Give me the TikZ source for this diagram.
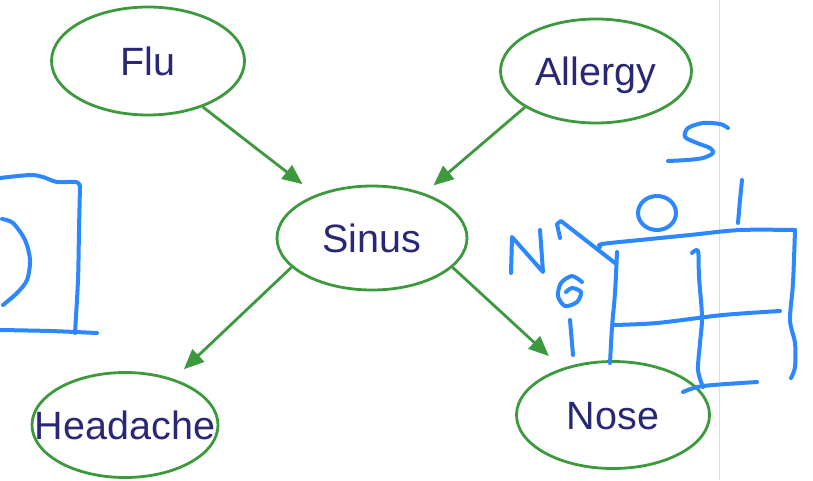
\documentclass[tikz,border=0pt]{standalone}
\usepackage{fontspec}
\setmainfont{Liberation Sans}
\usetikzlibrary{shapes.geometric,arrows.meta}
\definecolor{netgreen}{RGB}{61,153,61}
\definecolor{labelnavy}{RGB}{40,40,118}
\definecolor{inkblue}{RGB}{45,135,255}
\definecolor{edgegray}{RGB}{222,222,222}
\tikzset{
  var/.style={ellipse, draw=netgreen, line width=2.8pt, inner sep=0pt},
  varname/.style={text=labelnavy, font=\fontsize{39.5}{47}\selectfont,
    text height=28pt, text depth=0pt, inner sep=0pt},
  link/.style={draw=netgreen, line width=2.8pt, -{Triangle[length=20pt,width=17pt]}},
  ink/.style={draw=inkblue, line width=4pt, line cap=round, line join=round},
}
\begin{document}
\begin{tikzpicture}[x=1pt,y=-1pt]
\useasboundingbox (0,0) rectangle (813,480);
\fill[white] (0,0) rectangle (813,480);

% thin page edge
\draw[edgegray, line width=1pt] (719,0) -- (719,480);

% network variables
\node[var, minimum width=193pt, minimum height=108pt,
  label={[varname]center:Flu}] (flu) at (148,61) {};
\node[var, minimum width=191pt, minimum height=104pt,
  label={[varname]center:Allergy}] (allergy) at (596,71) {};
\node[var, minimum width=190pt, minimum height=104pt,
  label={[varname]center:Sinus}] (sinus) at (372,238) {};
\node[var, minimum width=186pt, minimum height=105pt,
  label={[varname]center:Headache}] (headache) at (125,425) {};
\node[var, minimum width=193pt, minimum height=107pt,
  label={[varname]center:Nose}] (nose) at (613,415) {};

% dependencies
\draw[link, shorten >=17pt] (flu.320) -- (sinus);
\draw[link, shorten >=12pt] (allergy.207) -- (sinus);
\draw[link, shorten >=14pt] (sinus.200) -- (headache);
\draw[link, shorten >=18pt] (sinus.340) -- (nose);

% handwritten box at the left edge
\draw[ink] plot[smooth] coordinates {(0,178) (30,175) (43,177) (57,182) (76,182) (80,186)};
\draw[ink] plot[smooth] coordinates {(80,186) (79,230) (78,280) (75,333)};
\draw[ink] plot[smooth] coordinates {(0,330) (50,331) (97,333)};
\draw[ink] plot[smooth] coordinates {(2,219) (13,223) (25,240) (30,260) (27,280) (17,293) (3,305)};

% handwritten table for N given S
\draw[ink] plot[smooth] coordinates {(728,128) (720,124) (703,123) (688,128) (685,137) (697,143) (710,148) (713,153) (703,158) (687,160) (668,161)};
\draw[ink] (657,213) ellipse [x radius=19pt, y radius=17pt];
\draw[ink] plot[smooth] coordinates {(742,180) (740,200) (738,223)};
\draw[ink] plot[smooth] coordinates {(600,247) (602,244) (640,240) (690,235) (740,230) (795,230)};
\draw[ink] plot[smooth] coordinates {(795,230) (793,283) (790,320) (795,343) (795,367) (791,378)};
\draw[ink] plot[smooth] coordinates {(617,252) (615,293) (612,327) (610,363)};
\draw[ink] plot[smooth] coordinates {(613,325) (657,323) (723,315) (780,311)};
\draw[ink] plot[smooth] coordinates {(692,253) (698,251) (699,277) (702,317) (700,343) (698,370) (703,387)};
\draw[ink] plot[smooth] coordinates {(683,392) (703,386) (757,382)};
% row variable N with its values
\draw[ink] (511,273) -- (512,237) -- (543,272) -- (540,230);
\draw[ink] (560,238) -- (557,224) -- (561,221) -- (615,263);
\draw[ink] plot[smooth] coordinates {(582,282) (572,276) (561,283) (558,296) (565,306) (577,302) (581,292) (572,288) (566,292)};
\draw[ink] (570,320) -- (573,355);
\end{tikzpicture}
\end{document}
